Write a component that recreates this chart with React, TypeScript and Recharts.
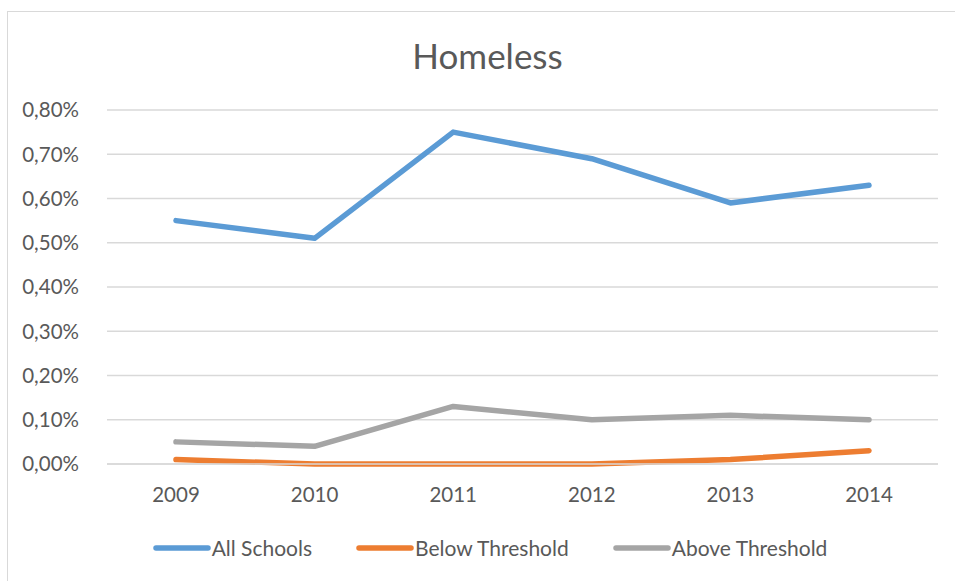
import React from "react";
import { LineChart, Line, XAxis, YAxis, CartesianGrid } from "recharts";

const years = ["2009", "2010", "2011", "2012", "2013", "2014"];
const allSchools = [0.55, 0.51, 0.75, 0.69, 0.59, 0.63];
const belowThreshold = [0.01, 0.0, 0.0, 0.0, 0.01, 0.03];
const aboveThreshold = [0.05, 0.04, 0.13, 0.1, 0.11, 0.1];
const yTicks = [0, 0.1, 0.2, 0.3, 0.4, 0.5, 0.6, 0.7, 0.8];

const seriesNames = ["All Schools", "Below Threshold", "Above Threshold"];
const colors = ["#5B9BD5", "#ED7D31", "#A5A5A5"];

const data = years.map((y, i) => ({
  year: y,
  a: allSchools[i],
  b: belowThreshold[i],
  c: aboveThreshold[i],
}));

const FONT = "Lato, 'Open Sans', sans-serif";
const TXT = "#595959";

const fmt = (v: number) => v.toFixed(2).replace(".", ",") + "%";

const LegendContent = () => (
  <div style={{ display: "flex", justifyContent: "center", fontFamily: FONT, fontSize: 21, color: TXT }}>
    {seriesNames.map((n, i) => (
      <div key={n} style={{ display: "flex", alignItems: "center", marginRight: i < 2 ? 44 : 0 }}>
        <svg width={58} height={10} style={{ marginRight: 1 }}>
          <line x1={3} y1={5} x2={55} y2={5} stroke={colors[i]} strokeWidth={5.5} strokeLinecap="round" />
        </svg>
        <span>{n}</span>
      </div>
    ))}
  </div>
);

export default function App() {
  return (
    <div style={{ position: "absolute", left: 0, top: 0, width: 955, height: 581, background: "#fff", overflow: "hidden" }}>
      <div style={{ position: "absolute", left: 7, top: 11, width: 1000, height: 1000, border: "1.5px solid #D9D9D9", boxSizing: "border-box" }} />
      <div style={{ position: "absolute", left: 0, top: 34, width: 975, textAlign: "center", fontFamily: FONT, fontSize: 35, color: TXT }}>
        Homeless
      </div>
      <div style={{ position: "absolute", left: 0, top: 0 }}>
        <LineChart width={955} height={581} data={data} margin={{ top: 110, right: 17, left: 17, bottom: 87 }}>
          <CartesianGrid vertical={false} stroke="#D9D9D9" strokeWidth={1.5} />
          <XAxis
            dataKey="year"
            axisLine={{ stroke: "#D9D9D9", strokeWidth: 1.5 }}
            tickLine={false}
            tick={{ fill: TXT, fontSize: 20.5, fontFamily: FONT }}
            tickMargin={17}
            height={30}
            padding={{ left: 69, right: 69 }}
          />
          <YAxis
            domain={[0, 0.8]}
            ticks={yTicks}
            tickFormatter={fmt}
            axisLine={false}
            tickLine={false}
            tick={{ fill: TXT, fontSize: 20.5, fontFamily: FONT }}
            tickMargin={22}
            width={90}
          />
          <Line dataKey="a" name={seriesNames[0]} stroke={colors[0]} strokeWidth={5.5} strokeLinecap="round" strokeLinejoin="round" dot={false} isAnimationActive={false} />
          <Line dataKey="b" name={seriesNames[1]} stroke={colors[1]} strokeWidth={5.5} strokeLinecap="round" strokeLinejoin="round" dot={false} isAnimationActive={false} />
          <Line dataKey="c" name={seriesNames[2]} stroke={colors[2]} strokeWidth={5.5} strokeLinecap="round" strokeLinejoin="round" dot={false} isAnimationActive={false} />
        </LineChart>
      </div>
      <div style={{ position: "absolute", left: 0, top: 535, width: 980 }}>
        <LegendContent />
      </div>
    </div>
  );
}
